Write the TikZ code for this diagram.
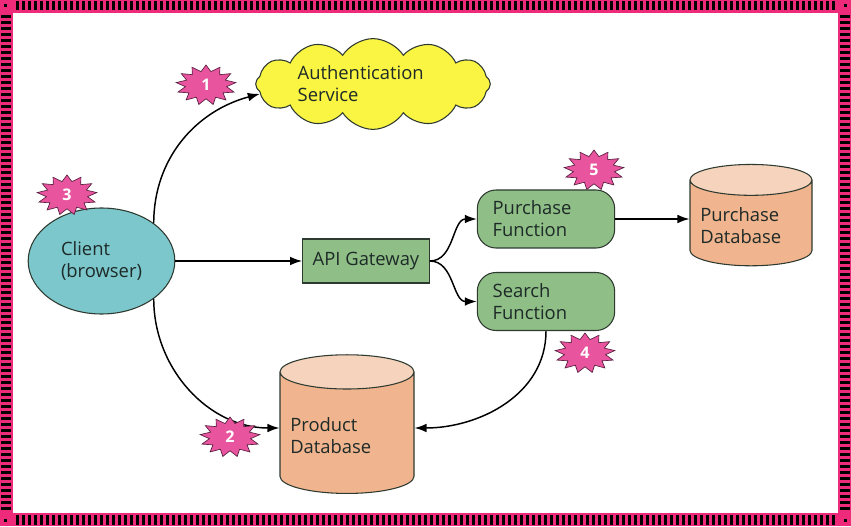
\documentclass[tikz,border=0pt]{standalone}
\usepackage{fontspec}
\setmainfont{Open Sans}
\usepackage{graphicx}
\usetikzlibrary{positioning, arrows.meta, shapes.geometric, shapes.symbols}

\definecolor{framepink}{HTML}{EE2A7B}
\definecolor{badgepink}{HTML}{E8559E}
\definecolor{badgeline}{HTML}{5A2040}
\definecolor{cloudyellow}{HTML}{F9F542}
\definecolor{clientteal}{HTML}{7CC7CC}
\definecolor{fngreen}{HTML}{8FBF86}
\definecolor{dbbody}{HTML}{F0B58E}
\definecolor{dbtop}{HTML}{F6D3BC}
\definecolor{boxline}{HTML}{2E3A30}
\definecolor{textdark}{HTML}{1E2A28}

\begin{document}
\begin{tikzpicture}[x=0.75pt, y=0.75pt,
    arrow/.style={-{Latex[length=9pt, width=6.5pt]}, line width=1.1pt},
    box/.style={draw=boxline, line width=0.8pt, text=textdark, align=left,
        font=\fontsize{13.8}{16.5}\selectfont},
    badge/.style={star, star points=13, star point ratio=1.45, fill=badgepink,
        draw=badgeline, line width=0.5pt, minimum size=30pt, inner sep=0pt,
        xscale=1.5, text=white, font=\fontsize{12}{14}\selectfont\bfseries},
    database/.style={box, cylinder, shape border rotate=90, aspect=0.28,
        cylinder uses custom fill, cylinder end fill=dbtop, cylinder body fill=dbbody}
]
    \useasboundingbox (0,0) rectangle (851,526);

    % Striped frame
    \fill[framepink] (0,0) rectangle (851,526);
    \fill[white] (13,13) rectangle (838,513);
    \foreach \x in {16,22,...,834}{
        \fill[black] (\x,515.5) rectangle ++(3,9.5);
        \fill[black] (\x,1.5) rectangle ++(3,9.5);
    }
    \foreach \y in {16,22,...,508}{
        \fill[black] (1.5,\y) rectangle ++(9.5,3);
        \fill[black] (840,\y) rectangle ++(9.5,3);
    }
    \foreach \cx/\cy in {4/519, 844/519, 4/4, 844/4}
        \fill[black] (\cx,\cy) rectangle ++(3,3);

    % Components
    \node[box, ellipse, fill=clientteal, minimum width=110pt, minimum height=79.5pt]
        (client) at (101.5,265) {Client\\(browser)};
    \node[box, cloud, cloud puffs=12, cloud puff arc=115, aspect=3.4, fill=cloudyellow,
        inner sep=0pt, text width=113pt, minimum width=176pt, minimum height=54pt]
        (auth) at (373,442) {Authentication\\Service};
    \node[box, fill=fngreen, minimum width=95pt, minimum height=33pt]
        (api) at (366,265) {API Gateway};
    \node[box, fill=fngreen, rounded corners=14pt, text width=80pt,
        minimum width=103pt, minimum height=43.5pt] (purfn) at (546,307) {Purchase\\Function};
    \node[box, fill=fngreen, rounded corners=14pt, text width=80pt,
        minimum width=103pt, minimum height=43.5pt] (srchfn) at (546,224.5) {Search\\Function};
    \node[database, text width=76pt, minimum width=91.5pt, minimum height=76pt]
        (purdb) at (751,300) {Purchase\\Database};
    \node[database, text width=85pt, minimum width=100.5pt, minimum height=104pt]
        (proddb) at (347,90) {Product\\Database};
    \coordinate (prodleft) at ([yshift=6pt]proddb.west);
    \coordinate (prodright) at ([yshift=6pt]proddb.east);

    % Connectors
    \draw[arrow] (client.north east) to[out=90, in=195] (auth.185);
    \draw[arrow] (client.east) -- (api.west);
    \draw[arrow] (client.south east) to[out=-90, in=180] (prodleft);
    \draw[arrow] (api.east) to[out=0, in=180] (purfn.west);
    \draw[arrow] (api.east) to[out=0, in=180] (srchfn.west);
    \draw[arrow] (purfn.east) -- (purfn.east -| purdb.west);
    \draw[arrow] (srchfn.south) to[out=-90, in=0] (prodright);

    % Step badges
    \node[badge] (b1) at (206,441) {\scalebox{0.67}[1]{1}};
    \node[badge] (b2) at (230,89) {\scalebox{0.67}[1]{2}};
    \node[badge] (b3) at (67,331) {\scalebox{0.67}[1]{3}};
    \node[badge] (b4) at (585,173) {\scalebox{0.67}[1]{4}};
    \node[badge] (b5) at (594,356) {\scalebox{0.67}[1]{5}};
\end{tikzpicture}
\end{document}
